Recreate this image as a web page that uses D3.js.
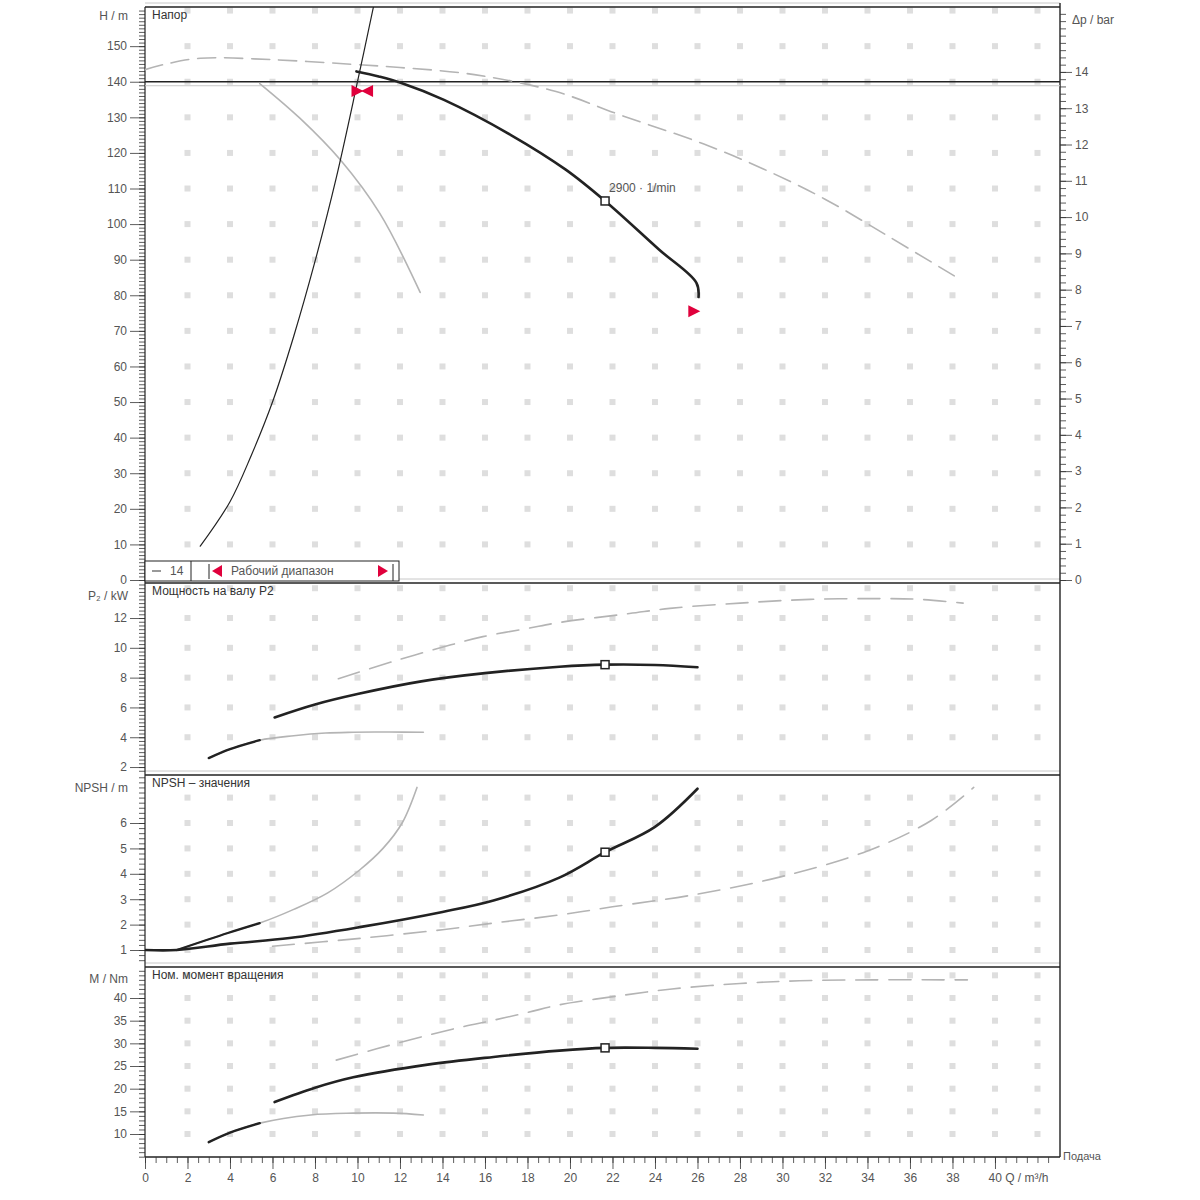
<!DOCTYPE html>
<html>
<head>
<meta charset="utf-8">
<script src="https://d3js.org/d3.v7.min.js"></script>
<style>
body { margin: 0; background: #fff; }
svg text { font-family: "Liberation Sans", Arial, sans-serif; font-size: 12px; fill: #555; }
.title { fill: #333; }
</style>
</head>
<body>
<svg width="1200" height="1200"></svg>
<script>
// ---- data ----
var qTicks = d3.range(0, 42, 2);

// head panel
var headQ = [9.95, 11, 12, 14.07, 17.2, 19.8, 21.65, 24.2, 25.95, 26.05];
var headH = [142.9, 141.5, 139.8, 134.9, 125.1, 115.3, 106.5, 92.8, 83.5, 79.5];
var sysQ = [2.6, 4, 5, 6, 7, 8, 9, 10, 10.75];
var sysH = [9.5, 22, 35, 50, 68.5, 89.5, 113, 140, 161];
var maxQ = [0, 1, 2.6, 6, 10, 12, 15.5, 19.3, 22.4, 26.3, 29.1, 32, 35, 38.1];
var maxH = [143.4, 145, 146.6, 146.2, 144.8, 144, 142, 137.3, 130.6, 122.5, 115.5, 107, 96.5, 85.4];
var minQ = [5.4, 7.3, 9.2, 11.05, 12.95];
var minH = [139.5, 129.7, 118, 103, 80.8];
var dutyH = 140;
var opQ = 21.65;
var rangeMarks = [[10.0, 137.4, 1], [10.45, 137.4, -1], [25.85, 75.5, 1]];

// power panel
var pQ = [6.1, 8, 10, 13, 16, 19.5, 21.65, 24, 26];
var pP = [5.33, 6.2, 6.9, 7.75, 8.3, 8.73, 8.87, 8.85, 8.7];
var pLowQ = [3, 4, 5.4, 7, 8.5, 9.8, 11.5, 13.1];
var pLowP = [2.6, 3.2, 3.8, 4.1, 4.28, 4.33, 4.35, 4.33];
var pMaxQ = [9.1, 11.7, 14.4, 15.9, 18, 19.5, 22.8, 24.7, 28, 31.3, 34.9, 36.5, 38.5];
var pMaxP = [7.93, 9.1, 10.2, 10.75, 11.3, 11.7, 12.3, 12.65, 13.0, 13.25, 13.3, 13.25, 13.0];

// NPSH panel
var nQ = [0, 1.5, 4, 6.8, 10.1, 14, 16.4, 19.5, 21.65, 24, 26];
var nN = [1.0, 1.0, 1.25, 1.47, 1.9, 2.5, 2.95, 3.85, 4.85, 5.85, 7.35];
var nLowQ = [1.5, 3.9, 5.4, 7, 8.6, 10.1, 11.2, 12.1, 12.8];
var nLowN = [1.0, 1.67, 2.06, 2.6, 3.25, 4.15, 5.0, 6.0, 7.4];
var nMaxQ = [6, 10, 14, 16.4, 19.5, 22, 26, 30, 34, 37, 39];
var nMaxN = [1.15, 1.45, 1.8, 2.06, 2.38, 2.7, 3.2, 3.9, 4.9, 6.1, 7.4];

// torque panel
var mQ = [6.1, 8, 9.8, 13.3, 16.4, 19.5, 21.65, 24, 26];
var mM = [17.05, 20.2, 22.5, 25.3, 27.0, 28.4, 29.0, 29.0, 28.8];
var mLowQ = [3, 4, 5.4, 7.8, 9.8, 11.7, 13.1];
var mLowM = [8.2, 10.3, 12.4, 14.2, 14.6, 14.6, 14.2];
var mMaxQ = [9, 10.9, 12.9, 14.8, 16.4, 18, 19.5, 22.5, 24.8, 28, 30.8, 34.3, 38.7];
var mMaxM = [26.3, 28.8, 31.3, 33.5, 35.1, 36.8, 38.5, 40.6, 42.0, 43.2, 43.8, 44.0, 44.0];

// ---- layout ----
var svg = d3.select("svg");
var left = 145, right = 1060, bottom = 1157;
var x = d3.scaleLinear().domain([0, 43.06]).range([left, right]);

var yH = d3.scaleLinear().domain([0, 161]).range([580, 7]);
var yDp = d3.scaleLinear().domain([0, 161 / 10.197]).range([580, 7]);
var yP = d3.scaleLinear().domain([1.6, 14.35]).range([773, 583]);
var yN = d3.scaleLinear().domain([0.41, 7.89]).range([965, 775]);
var yM = d3.scaleLinear().domain([4.93, 46.84]).range([1157, 967]);

var panels = [
    { y: yH, top: 7, bot: 581, labels: d3.range(0, 160, 10), minor: d3.range(0, 161, 1), dots: d3.range(10, 170, 10), title: "Напор", unit: "H / m", unitY: 20 },
    { y: yP, top: 583, bot: 773, labels: d3.range(2, 14, 2), minor: d3.range(1.75, 14.3, 0.25), dots: d3.range(4, 16, 2), title: "Мощность на валу P2", unit: "P\u2082 / kW", unitY: 600 },
    { y: yN, top: 775, bot: 965, labels: d3.range(1, 7, 1), minor: d3.range(0.6, 7.85, 0.2), dots: d3.range(1, 8, 1), title: "NPSH – значения", unit: "NPSH / m", unitY: 792 },
    { y: yM, top: 967, bot: 1157, labels: d3.range(10, 45, 5), minor: d3.range(5, 47, 1), dots: d3.range(10, 50, 5), title: "Ном. момент вращения", unit: "M / Nm", unitY: 983 }
];

var dotQ = d3.range(2, 44, 2);

panels.forEach(function (p, i) {
    var g = svg.append("g");

    // grid dots
    var cells = [];
    dotQ.forEach(function (q) { p.dots.forEach(function (v) { cells.push([q, v]); }); });
    g.selectAll("rect.dot").data(cells).enter().append("rect")
        .attr("class", "dot")
        .attr("x", function (d) { return x(d[0]) - 3; })
        .attr("y", function (d) { return p.y(d[1]) - 3; })
        .attr("width", 6).attr("height", 6)
        .attr("fill", "#dedede");

    // frame lines
    g.append("line").attr("x1", left).attr("x2", right).attr("y1", p.top - 4).attr("y2", p.top - 4)
        .attr("stroke", "#c8c8c8").attr("stroke-width", 1);
    g.append("line").attr("x1", left).attr("x2", right).attr("y1", p.top).attr("y2", p.top)
        .attr("stroke", "#222").attr("stroke-width", 1.4);

    // left axis: minor + major
    var minorAx = g.append("g").attr("transform", "translate(" + left + ",0)")
        .call(d3.axisLeft(p.y).tickValues(p.minor).tickSize(6).tickFormat(""));
    var majorAx = g.append("g").attr("transform", "translate(" + left + ",0)")
        .call(d3.axisLeft(p.y).tickValues(p.labels).tickSize(15).tickPadding(3).tickFormat(d3.format("d")));
    [minorAx, majorAx].forEach(function (a) {
        a.select(".domain").remove();
        a.selectAll("line").attr("stroke", "#333").attr("stroke-width", 0.8);
        a.selectAll("text").style("font-size", "12px").attr("fill", "#555");
    });

    g.append("text").attr("class", "title").attr("x", 152).attr("y", p.top + 12).text(p.title);
    g.append("text").attr("x", 128).attr("y", p.unitY).attr("text-anchor", "end").text(p.unit);
});

// outer lines
svg.append("line").attr("x1", left).attr("x2", left).attr("y1", 7).attr("y2", bottom).attr("stroke", "#222").attr("stroke-width", 1.2);
svg.append("line").attr("x1", right).attr("x2", right).attr("y1", 3).attr("y2", bottom).attr("stroke", "#222").attr("stroke-width", 1.4);
svg.append("line").attr("x1", left).attr("x2", right).attr("y1", bottom).attr("y2", bottom).attr("stroke", "#222").attr("stroke-width", 1.4);

// right axis Δp
var rMinor = svg.append("g").attr("transform", "translate(" + right + ",0)")
    .call(d3.axisRight(yDp).tickValues(d3.range(0, 15.7, 0.2)).tickSize(6).tickFormat(""));
var rMajor = svg.append("g").attr("transform", "translate(" + right + ",0)")
    .call(d3.axisRight(yDp).tickValues(d3.range(0, 15, 1)).tickSize(12).tickPadding(3).tickFormat(d3.format("d")));
[rMinor, rMajor].forEach(function (a) {
    a.select(".domain").remove();
    a.selectAll("line").attr("stroke", "#333").attr("stroke-width", 0.8);
    a.selectAll("text").style("font-size", "12px").attr("fill", "#555");
});
svg.append("text").attr("x", 1072).attr("y", 24).text("\u0394p / bar");

// bottom axis Q
var bMinor = svg.append("g").attr("transform", "translate(0," + bottom + ")")
    .call(d3.axisBottom(x).tickValues(d3.range(0, 43, 0.5)).tickSize(6).tickFormat(""));
var bMajor = svg.append("g").attr("transform", "translate(0," + bottom + ")")
    .call(d3.axisBottom(x).tickValues(qTicks).tickSize(12).tickPadding(4)
        .tickFormat(function (d) { return d === 40 ? "40 Q / m\u00b3/h" : d; }));
[bMinor, bMajor].forEach(function (a) {
    a.select(".domain").remove();
    a.selectAll("line").attr("stroke", "#333").attr("stroke-width", 0.8);
    a.selectAll("text").style("font-size", "12px").attr("fill", "#555");
});
bMajor.selectAll("text").filter(function (d) { return d === 40; })
    .attr("text-anchor", "start").attr("dx", "-7");
svg.append("text").attr("x", 1063).attr("y", 1160).style("font-size", "11px").text("Подача");

// ---- curves ----
function clipFor(id, p) {
    svg.append("clipPath").attr("id", id).append("rect")
        .attr("x", left).attr("y", p.top).attr("width", right - left).attr("height", p.bot - p.top);
    return "url(#" + id + ")";
}
function path(xs, ys, yScale) {
    return d3.line()
        .x(function (d) { return x(d[0]); })
        .y(function (d) { return yScale(d[1]); })
        .curve(d3.curveCatmullRom.alpha(0.5))(d3.zip(xs, ys));
}
function draw(layer, xs, ys, yScale, color, width, dash) {
    layer.append("path").attr("d", path(xs, ys, yScale))
        .attr("fill", "none").attr("stroke", color).attr("stroke-width", width)
        .attr("stroke-dasharray", dash || null).attr("stroke-linecap", "round");
}
var grey = "#b4b4b4", ink = "#222";

// head
var L1 = svg.append("g").attr("clip-path", clipFor("c1", panels[0]));
L1.append("line").attr("x1", left).attr("x2", right).attr("y1", yH(dutyH) + 4).attr("y2", yH(dutyH) + 4)
    .attr("stroke", "#c8c8c8").attr("stroke-width", 1);
L1.append("line").attr("x1", left).attr("x2", right).attr("y1", yH(dutyH)).attr("y2", yH(dutyH))
    .attr("stroke", ink).attr("stroke-width", 1.6);
draw(L1, maxQ, maxH, yH, grey, 1.6, "18,9");
draw(L1, minQ, minH, yH, grey, 1.6);
draw(L1, sysQ, sysH, yH, ink, 1.2);
draw(L1, headQ, headH, yH, ink, 2.6);
L1.append("text").attr("x", x(opQ) + 4).attr("y", yH(109)).style("font-size", "12px").attr("fill", "#666")
    .text("2900 \u00b7 1/min");

// red operating range markers
L1.selectAll("path.rm").data(rangeMarks).enter().append("path")
    .attr("class", "rm")
    .attr("d", function (d) {
        var cx = x(d[0]), cy = yH(d[1]), s = d[2] * 6;
        return "M" + (cx - s) + "," + (cy - 6) + "L" + (cx + s) + "," + cy + "L" + (cx - s) + "," + (cy + 6) + "Z";
    })
    .attr("fill", "#e0003c");

// power
var L2 = svg.append("g").attr("clip-path", clipFor("c2", panels[1]));
draw(L2, pMaxQ, pMaxP, yP, grey, 1.6, "22,11");
draw(L2, pLowQ, pLowP, yP, grey, 1.6);
draw(L2, pLowQ.slice(0, 3), pLowP.slice(0, 3), yP, ink, 2.4);
draw(L2, pQ, pP, yP, ink, 2.6);

// NPSH
var L3 = svg.append("g").attr("clip-path", clipFor("c3", panels[2]));
draw(L3, nMaxQ, nMaxN, yN, grey, 1.6, "22,11");
draw(L3, nLowQ, nLowN, yN, grey, 1.6);
draw(L3, nLowQ.slice(0, 3), nLowN.slice(0, 3), yN, ink, 2.2);
draw(L3, nQ, nN, yN, ink, 2.6);

// torque
var L4 = svg.append("g").attr("clip-path", clipFor("c4", panels[3]));
draw(L4, mMaxQ, mMaxM, yM, grey, 1.6, "22,11");
draw(L4, mLowQ, mLowM, yM, grey, 1.6);
draw(L4, mLowQ.slice(0, 3), mLowM.slice(0, 3), yM, ink, 2.4);
draw(L4, mQ, mM, yM, ink, 2.6);

// operating point squares
var ops = [[yH, 106.5], [yP, 8.87], [yN, 4.85], [yM, 29.0]];
svg.selectAll("rect.op").data(ops).enter().append("rect")
    .attr("class", "op")
    .attr("x", function () { return x(opQ) - 4; })
    .attr("y", function (d) { return d[0](d[1]) - 4; })
    .attr("width", 8).attr("height", 8)
    .attr("fill", "#fff").attr("stroke", ink).attr("stroke-width", 1.5);

// legend box in head panel
var lg = svg.append("g");
lg.append("rect").attr("x", left).attr("y", 561).attr("width", 254).attr("height", 20)
    .attr("fill", "#fff").attr("stroke", ink).attr("stroke-width", 1);
lg.append("line").attr("x1", 191).attr("x2", 191).attr("y1", 561).attr("y2", 581).attr("stroke", ink);
lg.append("line").attr("x1", 152).attr("x2", 161).attr("y1", 571).attr("y2", 571).attr("stroke", "#555").attr("stroke-width", 1.2);
lg.append("text").attr("x", 170).attr("y", 575).text("14");
lg.append("line").attr("x1", 209).attr("x2", 209).attr("y1", 564).attr("y2", 579).attr("stroke", ink);
lg.append("path").attr("d", "M222,565L212,571L222,577Z").attr("fill", "#e0003c");
lg.append("text").attr("x", 231).attr("y", 575).attr("fill", "#333").text("Рабочий диапазон");
lg.append("path").attr("d", "M378,565L388,571L378,577Z").attr("fill", "#e0003c");
lg.append("line").attr("x1", 393).attr("x2", 393).attr("y1", 564).attr("y2", 581).attr("stroke", ink);
</script>
</body>
</html>
